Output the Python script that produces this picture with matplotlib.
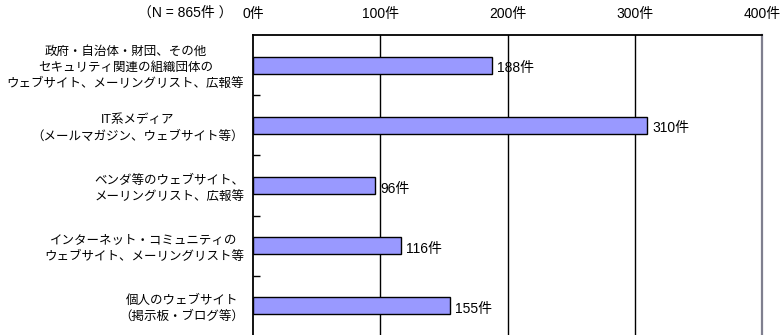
import matplotlib.pyplot as plt
import numpy as np

plt.rcParams['font.family'] = ['Liberation Sans', 'Noto Sans CJK JP', 'DejaVu Sans']

# データ
categories = [
    '政府・自治体・財団、その他\nセキュリティ関連の組織団体の\nウェブサイト、メーリングリスト、広報等',
    'IT系メディア\n（メールマガジン、ウェブサイト等）',
    'ベンダ等のウェブサイト、\nメーリングリスト、広報等',
    'インターネット・コミュニティの\nウェブサイト、メーリングリスト等',
    '個人のウェブサイト\n（掲示板・ブログ等）',
]
counts = [188, 310, 96, 116, 155]
xticks = [0, 100, 200, 300, 400]
xtick_labels = ['0件', '100件', '200件', '300件', '400件']
n_label = '（N = 865件 ）'

W, H = 781, 335
fig = plt.figure(figsize=(W / 100, H / 100), dpi=100)
# 軸の位置（ピクセル）
left, right, top, bottom = 253, 762, 35, 336
ax = fig.add_axes([left / W, 1 - bottom / H, (right - left) / W, (bottom - top) / H])

y = np.arange(len(categories))
ax.barh(y, counts, height=0.28, color='#9999FF', edgecolor='black', linewidth=1.0, zorder=3)
for yi, c in zip(y, counts):
    ax.text(c + 4, yi + 0.05, str(c) + '件', va='center', ha='left', fontsize=10)

ax.set_xlim(0, 400)
ax.set_ylim(len(categories) - 0.5, -0.5)

ax.xaxis.tick_top()
ax.set_xticks(xticks)
ax.set_xticklabels(xtick_labels, fontsize=10)
ax.tick_params(axis='x', length=0, pad=10)
for x in xticks[1:-1]:
    ax.axvline(x, color='black', linewidth=1.0, zorder=1)

# カテゴリ境界の目盛り
ax.set_yticks(np.arange(0.5, len(categories) - 0.5, 1.0))
ax.set_yticklabels([])
ax.tick_params(axis='y', direction='in', length=5, width=1.0)
for yi, cat in zip(y, categories):
    ax.text(-7, yi + 0.05, cat, ha='right', va='center', multialignment='center',
            fontsize=9, linespacing=1.45, clip_on=False)

for side in ['left', 'top']:
    ax.spines[side].set_linewidth(1.3)
ax.spines['right'].set_linewidth(1.6)
ax.spines['right'].set_color('#7f7f8f')
ax.spines['bottom'].set_visible(False)

fig.text(233 / W, 1 - 13 / H, n_label, ha='right', va='center', fontsize=10)

fig.savefig('out.png', dpi=100)
